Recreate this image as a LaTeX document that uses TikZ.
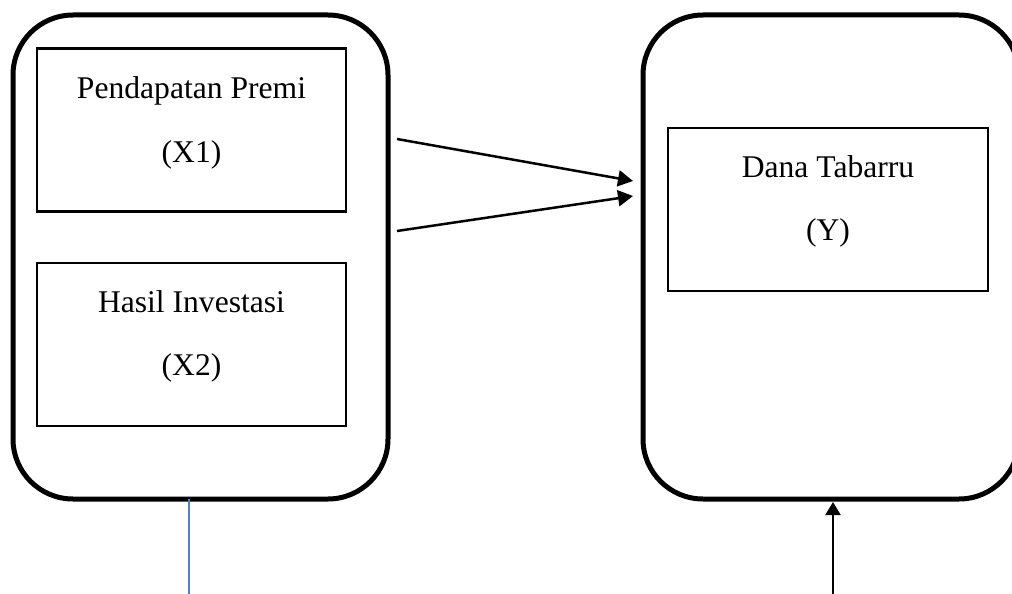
\documentclass[tikz,border=0pt]{standalone}
\usepackage{fontspec}
\setmainfont{Liberation Serif}
\usetikzlibrary{arrows.meta}
\definecolor{lineblue}{RGB}{79,129,189}
\tikzset{
  outerbox/.style={draw=black, line width=5pt, rounded corners=60pt, inner sep=0pt, outer sep=0pt},
  varbox/.style={draw=black, line width=2.3pt, inner sep=0pt, outer sep=0pt, minimum width=309pt, minimum height=163pt},
  lbl/.style={anchor=base, inner sep=0pt, font=\fontsize{31.6}{38}\selectfont},
  conn/.style={line width=2.5pt, -{Triangle[length=15pt,width=16pt]}},
  upconn/.style={line width=2pt, -{Triangle[length=13pt,width=15pt]}},
  blueline/.style={draw=lineblue, line width=2pt}
}
\begin{document}
\begin{tikzpicture}[x=1pt,y=-1pt]
\useasboundingbox (0,0) rectangle (1012,594);
\clip (0,0) rectangle (1012,594);
% outer rounded frames
\node[outerbox, minimum width=375pt, minimum height=484pt] (L) at (200.5,257) {};
\node[outerbox, minimum width=376pt, minimum height=484pt] (R) at (831,257) {};
% variable boxes
\node[varbox] (X1) at (191.5,130) {};
\node[lbl] (X1a) at (191.5,98) {Pendapatan Premi};
\node[lbl] (X1b) at (191.5,162) {(X1)};
\node[varbox] (X2) at (191.5,344.5) {};
\node[lbl] (X2a) at (191.5,312) {Hasil Investasi};
\node[lbl] (X2b) at (191.5,375) {(X2)};
\node[varbox, minimum width=320pt] (Y) at (828,209.5) {};
\node[lbl] (Ya) at (828,177) {Dana Tabarru};
\node[lbl] (Yb) at (828,240) {(Y)};
% connector ends
\coordinate (a1s) at (397,139);
\coordinate (a1e) at (633,181);
\coordinate (a2s) at (397,231);
\coordinate (a2e) at (633,196);
\coordinate (bt) at (189,499);
\coordinate (bb) at (189,600);
\coordinate (ut) at (833,502);
\coordinate (ub) at (833,600);
\draw[conn] (a1s) -- (a1e);
\draw[conn] (a2s) -- (a2e);
\draw[blueline] (bt) -- (bb);
\draw[upconn] (ub) -- (ut);
\end{tikzpicture}
\end{document}
